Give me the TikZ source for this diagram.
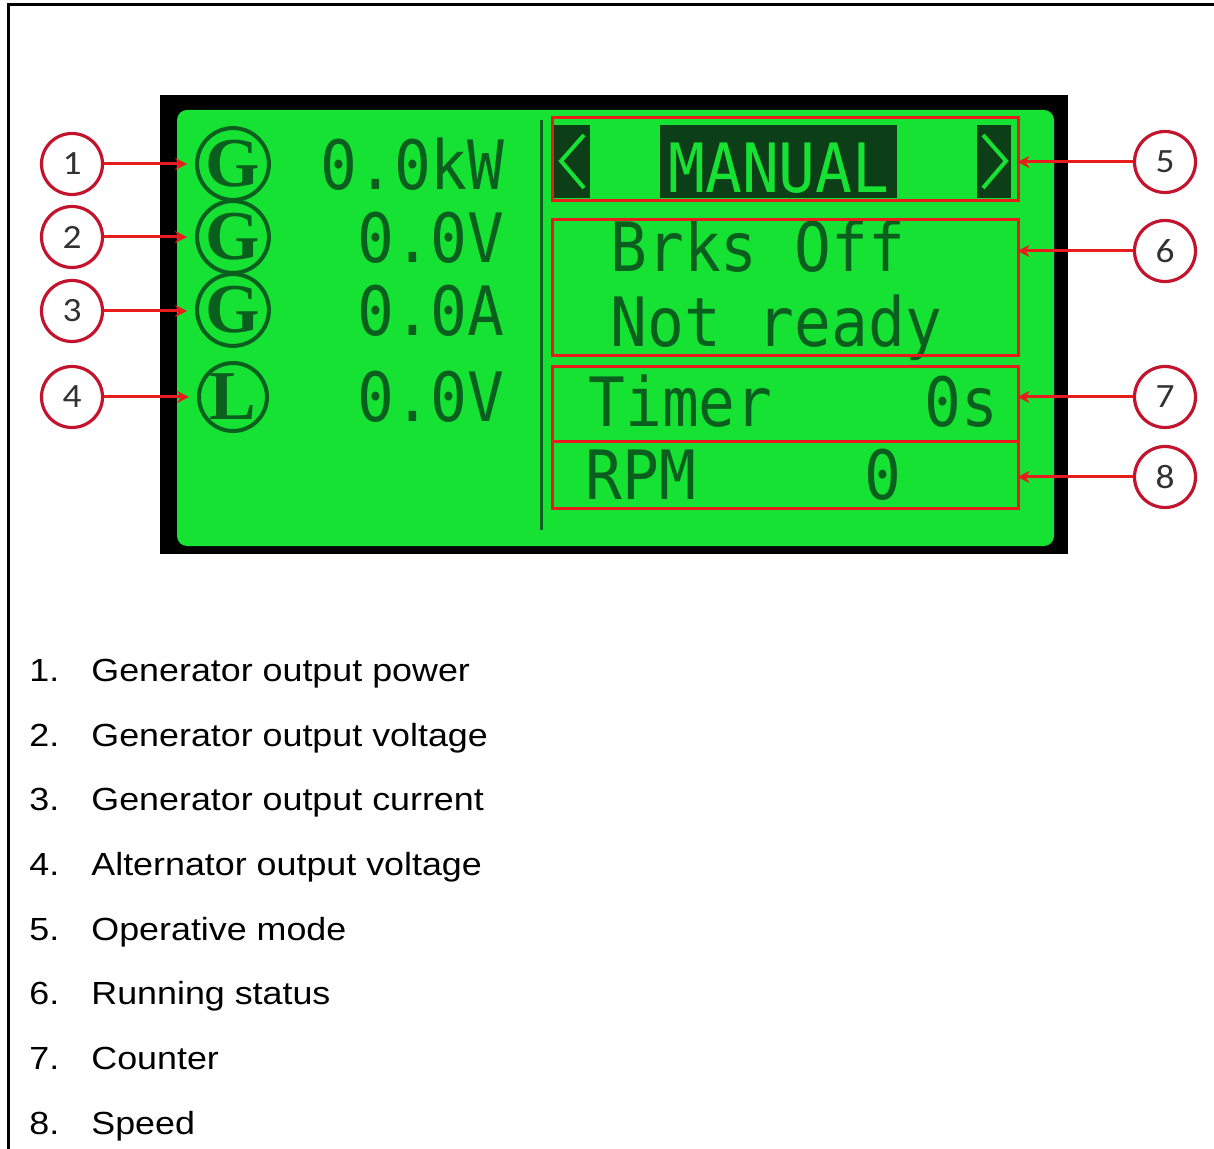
\documentclass[tikz,border=0pt]{standalone}
\usepackage{fontspec}
\setmainfont{Liberation Sans}
\newfontfamily\legendfont{Liberation Sans}[FakeStretch=1.12]
\newfontfamily\lcdfont{DejaVu Sans Mono}[FakeStretch=0.9]
\newfontfamily\numfont{Carlito}[FakeStretch=1.1]
\newfontfamily\gfont{Liberation Serif}
\usetikzlibrary{arrows.meta}
\definecolor{lcdgreen}{RGB}{22,226,52}
\definecolor{lcdtext}{RGB}{10,95,30}
\definecolor{lcdbg}{RGB}{12,62,24}
\definecolor{markred}{RGB}{232,28,28}
\definecolor{ringred}{RGB}{195,20,45}
\definecolor{numgray}{RGB}{50,50,50}
\tikzset{
  lcdtxt/.style={inner sep=0pt, text=lcdtext, font=\lcdfont\fontsize{34}{34}\selectfont},
  lcdinv/.style={inner sep=0pt, text=lcdgreen, font=\lcdfont\fontsize{34}{34}\selectfont},
  gring/.style={draw=lcdtext, line width=2pt, circle, minimum size=34pt, inner sep=0pt, text=lcdtext, font=\gfont\bfseries\fontsize{35}{35}\selectfont},
  callout/.style={draw=ringred, line width=1.6pt, circle, minimum size=30.5pt, inner sep=0pt, text=numgray, font=\numfont\fontsize{17}{17}\selectfont},
  redbox/.style={draw=markred, line width=1.5pt, inner sep=0pt, minimum width=233pt},
  pointer/.style={draw=markred, line width=1.5pt, -{Stealth[length=6pt,width=6pt]}},
  legend/.style={anchor=base west, inner sep=0pt, font=\legendfont\fontsize{16}{16}\selectfont}
}
\begin{document}
\begin{tikzpicture}[x=0.5pt,y=-0.5pt]
\useasboundingbox (0,0) rectangle (1214,1149);
\fill[white] (0,0) rectangle (1214,1149);
% frame lines
\draw[line width=1.5pt] (8,1149) -- (8,5) -- (1214,5);
% screen
\fill[black] (160,95) rectangle (1068,554);
\fill[lcdgreen, rounded corners=5pt] (177,110) rectangle (1054,546);
\draw[lcdtext, line width=1.5pt] (541,120) -- (541,530);
% left column
\node[gring] (g1) at (233,164) {G};
\node[gring] (g2) at (233,237) {G};
\node[gring] (g3) at (233,310) {G};
\node[gring] (g4) at (233,397) {L};
\node[lcdtxt, anchor=base east] (v1) at (505,190) {0.0kW};
\node[lcdtxt, anchor=base east] (v2) at (505,263) {0.0V};
\node[lcdtxt, anchor=base east] (v3) at (505,336) {0.0A};
\node[lcdtxt, anchor=base east] (v4) at (505,422) {0.0V};
% mode line
\fill[lcdbg] (554,125) rectangle (590,198);
\fill[lcdbg] (660,125) rectangle (897,198);
\fill[lcdbg] (977,125) rectangle (1011,198);
\draw[lcdgreen, line width=2pt] (584,135) -- (561,161) -- (584,188);
\draw[lcdgreen, line width=2pt] (983,135) -- (1006,161) -- (983,188);
\node[lcdinv, anchor=base west] (mode) at (668,193) {MANUAL};
% status lines
\node[lcdtxt, anchor=base west] (s1) at (610,272) {Brks Off};
\node[lcdtxt, anchor=base west] (s2) at (610,347) {Not ready};
\node[lcdtxt, anchor=base west] (t1) at (588,427) {Timer};
\node[lcdtxt, anchor=base east] (t2) at (999,427) {0s};
\node[lcdtxt, anchor=base west] (r1) at (585,500) {RPM};
\node[lcdtxt, anchor=base east] (r2) at (902,500) {0};
% red boxes
\node[redbox, minimum height=41.5pt] (b5) at (785,159.5) {};
\node[redbox, minimum height=68pt] (b6) at (785,288) {};
\node[redbox, minimum height=37.5pt] (b7) at (785,404.5) {};
\node[redbox, minimum height=33pt] (b8) at (785,475) {};
% callouts
\node[callout] (c1) at (72,164) {1};
\node[callout] (c2) at (72,237) {2};
\node[callout] (c3) at (72,311) {3};
\node[callout] (c4) at (72,397) {4};
\node[callout] (c5) at (1165,162) {5};
\node[callout] (c6) at (1165,251) {6};
\node[callout] (c7) at (1165,397) {7};
\node[callout] (c8) at (1165,477) {8};
\draw[pointer, shorten >=4pt] (c1) -- (g1);
\draw[pointer, shorten >=4pt] (c2) -- (g2);
\draw[pointer, shorten >=4pt] (c3.east) -- (c3.east -| g3.west);
\draw[pointer, shorten >=4pt] (c4) -- (g4);
\draw[pointer, shorten >=-1pt] (c5) -- (c5 -| b5.east);
\draw[pointer, shorten >=-1pt] (c6) -- (c6 -| b6.east);
\draw[pointer, shorten >=-1pt] (c7) -- (c7 -| b7.east);
\draw[pointer, shorten >=-1pt] (c8) -- (c8 -| b8.east);
% legend
\node[legend] (n1) at (29,681) {1.};
\node[legend] (l1) at (91,681) {Generator output power};
\node[legend] (n2) at (29,746) {2.};
\node[legend] (l2) at (91,746) {Generator output voltage};
\node[legend] (n3) at (29,810) {3.};
\node[legend] (l3) at (91,810) {Generator output current};
\node[legend] (n4) at (29,875) {4.};
\node[legend] (l4) at (91,875) {Alternator output voltage};
\node[legend] (n5) at (29,940) {5.};
\node[legend] (l5) at (91,940) {Operative mode};
\node[legend] (n6) at (29,1004) {6.};
\node[legend] (l6) at (91,1004) {Running status};
\node[legend] (n7) at (29,1069) {7.};
\node[legend] (l7) at (91,1069) {Counter};
\node[legend] (n8) at (29,1134) {8.};
\node[legend] (l8) at (91,1134) {Speed};
\end{tikzpicture}
\end{document}
